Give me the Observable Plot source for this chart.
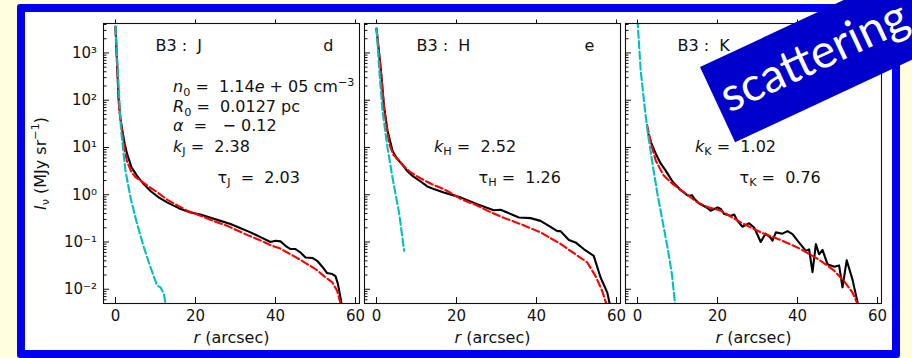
<!DOCTYPE html>
<html><head><meta charset="utf-8">
<script src="https://cdn.jsdelivr.net/npm/d3@7"></script>
<script src="https://cdn.jsdelivr.net/npm/@observablehq/plot@0.6"></script>
<style>
html,body{margin:0;padding:0;}
body{width:912px;height:358px;background:#FFFFE0;position:relative;overflow:hidden;font-family:"DejaVu Sans",sans-serif;}
#frame{position:absolute;left:17px;top:4px;width:867px;height:338px;border:8px solid #0000F0;border-radius:3px;background:#fff;}
#scat{position:absolute;left:700px;top:67px;width:320px;height:83px;background:#0000CC;transform-origin:0 0;transform:rotate(-25deg);color:#fff;font-family:Lato,sans-serif;font-size:47px;line-height:72px;padding-left:7px;box-sizing:border-box;z-index:10;white-space:nowrap;overflow:hidden;}
</style></head><body>
<div id="frame"></div>
<div id="panels"></div>
<div id="scat">scattering</div>
<script>
// ---- data: J band ----
const rJ = [0, 0.4, 0.8, 1.2, 1.7, 2.3, 2.9, 4, 5.4, 7, 8.75, 10.8, 12.9, 15.8, 18.75, 21.25, 24.6, 26.25, 28.75, 31, 33.75, 36, 38.75, 40, 41.25, 42.5, 43.75, 45, 46.25, 47.5, 49.2, 50.4, 51.7, 52.9, 54.2, 55, 55.6, 56.25, 56.6];
const IJ = [3600, 600, 100, 43, 23, 12, 7.3, 3.8, 2.5, 1.7, 1.2, 0.88, 0.69, 0.52, 0.42, 0.38, 0.31, 0.28, 0.24, 0.2, 0.16, 0.13, 0.1, 0.106, 0.103, 0.083, 0.071, 0.071, 0.06, 0.047, 0.046, 0.04, 0.03, 0.022, 0.021, 0.019, 0.013, 0.0066, 0.0045];
const rJm = [0, 0.4, 0.8, 1.2, 1.6, 2.2, 2.9, 4, 5, 6.25, 8, 10, 13, 17.9, 21.25, 24, 27.9, 29.6, 33, 36, 38.75, 41, 43.75, 46, 48.75, 50.5, 52.1, 54.2, 55.4, 56.4];
const IJm = [3400, 560, 95, 40, 24, 10, 5.0, 3.0, 2.35, 2.0, 1.55, 1.2, 0.78, 0.46, 0.36, 0.29, 0.22, 0.19, 0.14, 0.11, 0.086, 0.074, 0.055, 0.043, 0.031, 0.025, 0.019, 0.014, 0.0093, 0.0045];
const rJs = [0, 0.4, 0.8, 1.4, 2.5, 3.75, 5.4, 7.1, 8.75, 10.4, 11.25, 12.1, 12.6];
const IJs = [3600, 800, 187, 23, 3.2, 0.87, 0.24, 0.077, 0.029, 0.012, 0.011, 0.0079, 0.0045];
// ---- data: H band ----
const rH = [0, 0.5, 1.1, 1.9, 2.75, 4, 5, 6.5, 7.5, 9, 10.7, 12.7, 14.5, 16.8, 21, 25.2, 29.3, 31, 32.7, 35.6, 38.5, 41, 43.1, 45.2, 46, 48.1, 49.75, 51.8, 54.3, 56, 57.7, 58.4];
const IH = [3300, 1300, 425, 71, 23, 8.5, 6.0, 4.3, 3.3, 2.5, 2.0, 1.5, 1.3, 1.12, 0.88, 0.63, 0.47, 0.48, 0.42, 0.33, 0.32, 0.28, 0.22, 0.17, 0.17, 0.11, 0.098, 0.071, 0.051, 0.018, 0.0085, 0.0045];
const rHm = [0, 0.5, 1.1, 1.9, 2.6, 3.2, 4.2, 5.7, 7, 8.5, 10, 12, 14, 16.5, 18.5, 21, 25, 28.2, 29.3, 32, 36, 41, 46, 49.75, 52.7, 54.75, 56.4, 57.6];
const IHm = [3200, 1250, 410, 68, 25, 11.8, 7.0, 5.2, 3.9, 3.0, 2.5, 2.0, 1.65, 1.35, 1.1, 0.82, 0.6, 0.44, 0.40, 0.32, 0.24, 0.16, 0.091, 0.055, 0.037, 0.019, 0.0093, 0.0045];
const rHs = [0, 0.7, 1.5, 2.75, 4, 5.7, 6.9];
const IHs = [3300, 425, 60, 10, 2.3, 0.39, 0.065];
// ---- data: K band ----
const rK = [2.75, 3.5, 4.6, 5.8, 7.1, 8.75, 10.8, 12.7, 13.6, 14.2, 15.4, 16.5, 17.5, 18.3, 20.0, 20.8, 21.7, 23.3, 24.2, 25, 26.25, 27.9, 29.2, 30.8, 32, 33.2, 33.75, 34.6, 36.25, 37.5, 38.75, 40, 42.1, 42.9, 43.75, 44.6, 45.4, 46.25, 47.5, 49.2, 50.4, 51.25, 52.3, 53.75, 55.2];
const IK = [19, 12, 7.3, 4.6, 3.2, 1.9, 1.25, 0.95, 0.98, 0.82, 0.65, 0.58, 0.52, 0.46, 0.54, 0.5, 0.39, 0.36, 0.38, 0.28, 0.21, 0.25, 0.2, 0.1, 0.15, 0.125, 0.107, 0.16, 0.15, 0.17, 0.147, 0.107, 0.065, 0.07, 0.023, 0.09, 0.055, 0.068, 0.034, 0.03, 0.032, 0.011, 0.041, 0.016, 0.0045];
const rKm = [2.4, 3.5, 4.6, 6.5, 8.75, 11.5, 14.6, 17.5, 20.8, 25.8, 30.8, 35.8, 40.8, 45.8, 49.1, 51.6, 53.75, 55.2];
const IKm = [30, 11, 5.2, 2.6, 1.7, 1.15, 0.72, 0.55, 0.46, 0.26, 0.16, 0.11, 0.071, 0.04, 0.025, 0.015, 0.0085, 0.0045];
const rKs = [0, 0.8, 1.7, 2.5, 3.75, 5, 6.25, 7.5, 8.6, 9.3, 9.45];
const IKs = [5000, 425, 83, 23, 4.5, 1.03, 0.28, 0.077, 0.021, 0.0057, 0.0045];

// ---- ticks & labels ----
const xTicks = [0, 20, 40, 60];
const yTicks = [0.01, 0.1, 1, 10, 100, 1000];
const bands = ["J", "H", "K"];
const letters = ["d", "e", ""];
const kVals = ["2.38", "2.52", "1.02"];
const tauVals = ["2.03", "1.26", "0.76"];
const paramLines = [
  [["n","i"],["0","sub"],[" =  1.14"],["e","i"],[" + 05 cm"],["−3","sup"]],
  [["R","i"],["0","sub"],[" =  0.0127 pc"]],
  [["α","i"],["  =   − 0.12"]]
];

const supMap = {"-":"⁻","0":"⁰","1":"¹","2":"²","3":"³","4":"⁴","5":"⁵","6":"⁶","7":"⁷","8":"⁸","9":"⁹"};
const fmtPow = d => "10" + String(Math.round(Math.log10(d))).split("").map(c => supMap[c]).join("");
const yDomain = [0.005, 4200];
const minorTicks = [];
for (const t of [0.001, ...yTicks]) for (let m = 2; m <= 9; m++) { const v = m * t; if (v >= yDomain[0] && v <= yDomain[1]) minorTicks.push(v); }

const RICH = {};
function plain(segs) { const s = segs.map(d => d[0]).join(""); RICH[s] = segs; return s; }
function rich(svg) {
  svg.querySelectorAll("text").forEach(t => {
    const segs = RICH[t.textContent];
    t.style.whiteSpace = "pre";
    if (!segs) return;
    const fs = parseFloat(getComputedStyle(t).fontSize);
    while (t.firstChild) t.removeChild(t.firstChild);
    let shift = 0;
    for (const [s, st] of segs) {
      const ts = document.createElementNS("http://www.w3.org/2000/svg", "tspan");
      ts.textContent = s;
      let target = 0;
      if (st === "sub") { target = 0.22 * fs; ts.setAttribute("font-size", 0.7 * fs); }
      if (st === "sup") { target = -0.42 * fs; ts.setAttribute("font-size", 0.7 * fs); }
      if (st === "i") ts.setAttribute("font-style", "italic");
      if (target !== shift) { ts.setAttribute("dy", target - shift); shift = target; }
      t.appendChild(ts);
    }
  });
}
const pts = (xs, ys) => xs.map((r, i) => ({r, v: ys[i]}));

const panelsDiv = document.getElementById("panels");
const frameLefts = [103, 364, 625];
const series = [
  [pts(rJ, IJ), pts(rJm, IJm), pts(rJs, IJs)],
  [pts(rH, IH), pts(rHm, IHm), pts(rHs, IHs)],
  [pts(rK, IK), pts(rKm, IKm), pts(rKs, IKs)]
];
const dash = "7.4,3.2";
const AF = 16;

bands.forEach((b, i) => {
  const ml = i === 0 ? 103 : 10, mr = 10;
  const [obs, mod, sca] = series[i];
  const ann = [];
  ann.push(Plot.text([0], {x: 10, y: 1435, text: [`B3 :  ${b}`], textAnchor: "start", fontSize: AF, fill: "#111"}));
  if (letters[i]) ann.push(Plot.text([0], {x: 53.2, y: 1435, text: [letters[i]], textAnchor: "middle", fontSize: AF, fill: "#111"}));
  if (i === 0) {
    const ys = [188, 70.7, 28];
    paramLines.forEach((segs, j) => ann.push(Plot.text([0], {x: 14.4, y: ys[j], text: [plain(segs)], textAnchor: "start", fontSize: AF, fill: "#111"})));
  }
  ann.push(Plot.text([0], {x: 14.4, y: 10.5, text: [plain([["k","i"],[b,"sub"],[" =  " + kVals[i]]])], textAnchor: "start", fontSize: AF, fill: "#111"}));
  ann.push(Plot.text([0], {x: 25.5, y: 2.33, text: [plain([["τ"],[b,"sub"],[i === 0 ? "  =  " + tauVals[i] : " =  " + tauVals[i]]])], textAnchor: "start", fontSize: AF, fill: "#111"}));
  const labels = [
    Plot.text([0], {frameAnchor: "bottom", dy: 34, lineAnchor: "middle", textAnchor: "middle", text: [plain([["r","i"],[" (arcsec)"]])], fontSize: AF, fill: "#111"})
  ];
  if (i === 0) labels.push(Plot.text([0], {frameAnchor: "left", dx: -63, rotate: -90, textAnchor: "middle", lineAnchor: "middle", text: [plain([["I","i"],["ν","sub"],[" (MJy sr"],["−1","sup"],[")"]])], fontSize: AF, fill: "#111"}));

  const p = Plot.plot({
    width: ml + 256 + mr, height: 358,
    marginLeft: ml, marginRight: mr, marginTop: 23, marginBottom: 55,
    x: {domain: [-3, 61]},
    y: {type: "log", domain: yDomain},
    style: {background: "transparent", overflow: "visible", fontFamily: "DejaVu Sans, sans-serif", fontSize: "15px", color: "#111"},
    marks: [
      Plot.line(obs, {x: "r", y: "v", stroke: "#000", strokeWidth: 2.1, clip: true}),
      Plot.line(mod, {x: "r", y: "v", stroke: "#ff0000", strokeWidth: 2.1, strokeDasharray: dash, clip: true}),
      Plot.line(sca, {x: "r", y: "v", stroke: "#00BFBF", strokeWidth: 2.1, strokeDasharray: dash, clip: true}),
      Plot.frame({stroke: "#111", strokeWidth: 1.1}),
      Plot.axisX(xTicks, {anchor: "bottom", tickSize: -6, tickPadding: 12.5, label: null, tickFormat: d => String(d)}),
      Plot.axisX(xTicks, {anchor: "top", tickSize: 4.5, label: null, tickFormat: () => ""}),
      Plot.axisY(yTicks, {anchor: "left", tickSize: -6, tickPadding: 12.5, label: null, tickFormat: i === 0 ? fmtPow : () => ""}),
      Plot.axisY(minorTicks, {anchor: "left", tickSize: -3.5, label: null, tickFormat: () => ""}),
      ...ann,
      ...labels
    ]
  });
  p.style.position = "absolute";
  p.style.left = (frameLefts[i] - ml) + "px";
  p.style.top = "0px";
  p.style.maxWidth = "none";
  panelsDiv.appendChild(p);
  rich(p);
});
</script>
</body></html>
